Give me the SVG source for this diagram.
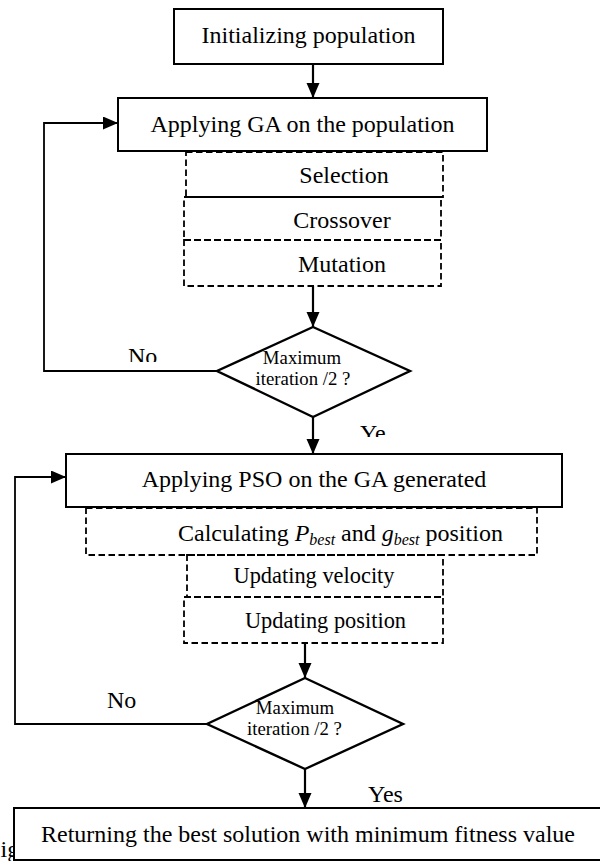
<svg xmlns="http://www.w3.org/2000/svg" width="600" height="861" viewBox="0 0 600 861">
<style>
.t{font-family:"Liberation Serif","Times New Roman",serif;font-size:24px;fill:#000}
.s{font-size:22.4px}
.d{font-size:18.8px}
.box{fill:#fff;stroke:#000;stroke-width:2}
.dash{fill:none;stroke:#000;stroke-width:1.8;stroke-dasharray:6.5,3.5}
.dia{fill:#fff;stroke:#000;stroke-width:2.4}
.ln{fill:none;stroke:#000;stroke-width:2.2}
.lp{fill:none;stroke:#000;stroke-width:1.8}
</style>
<defs>
<marker id="ah" markerUnits="userSpaceOnUse" markerWidth="16" markerHeight="14" refX="15" refY="6.5" orient="auto">
<path d="M0,0 L15,6.5 L0,13 z" fill="#000"/>
</marker>
<clipPath id="cNo"><rect x="100" y="330" width="80" height="32"/></clipPath>
<clipPath id="cYe"><rect x="350" y="410" width="37" height="27"/></clipPath>
</defs>
<rect width="600" height="861" fill="#fff"/>
<g id="caption"><text class="t" x="0.5" y="857" font-size="14">ig</text></g>
<g id="connectors">
<line class="ln" x1="313" y1="64" x2="313" y2="98" marker-end="url(#ah)"/>
<line class="ln" x1="313" y1="286" x2="313" y2="327" marker-end="url(#ah)"/>
<polyline class="lp" points="217,371 44,371 44,123 118,123" marker-end="url(#ah)"/>
<line class="ln" x1="313" y1="417" x2="313" y2="454" marker-end="url(#ah)"/>
<line class="ln" x1="305" y1="643" x2="305" y2="678" marker-end="url(#ah)"/>
<polyline class="lp" points="207,724 15,724 15,477 66,477" marker-end="url(#ah)"/>
<line class="ln" x1="305" y1="769" x2="305" y2="808" marker-end="url(#ah)"/>
<text class="t" x="128" y="364" clip-path="url(#cNo)">No</text>
<text class="t" x="360" y="441" clip-path="url(#cYe)">Ye</text>
<text class="t" x="107" y="708">No</text>
<text class="t" x="368" y="802">Yes</text>
</g>
<g id="init">
<rect class="box" x="174" y="9" width="269" height="55"/>
<text class="t" x="308.5" y="43" text-anchor="middle">Initializing population</text>
</g>
<g id="ga">
<rect class="box" x="118" y="98" width="369" height="53"/>
<text class="t" x="302.5" y="132" text-anchor="middle">Applying GA on the population</text>
</g>
<g id="selection">
<rect class="dash" x="186" y="152" width="257" height="45"/>
<text class="t" x="344" y="183" text-anchor="middle">Selection</text>
</g>
<g id="crossover">
<rect class="dash" x="184" y="197" width="257" height="43"/>
<text class="t" x="342" y="228" text-anchor="middle">Crossover</text>
</g>
<g id="mutation">
<rect class="dash" x="184" y="240" width="257" height="46"/>
<text class="t" x="342" y="272" text-anchor="middle">Mutation</text>
</g>
<g id="decision1">
<polygon class="dia" points="313,327 410,371 313,417 217,371"/>
<text class="t d" x="302" y="364" text-anchor="middle">Maximum</text>
<text class="t d" x="303" y="385" text-anchor="middle">iteration /2 ?</text>
</g>
<g id="pso">
<rect class="box" x="66" y="454" width="496" height="53"/>
<text class="t" x="314" y="487" text-anchor="middle">Applying PSO on the GA generated</text>
</g>
<g id="calc">
<rect class="dash" x="86" y="508" width="451" height="47"/>
<text class="t" x="178" y="541">Calculating <tspan font-style="italic">P</tspan><tspan font-style="italic" font-size="16" dy="4">best</tspan><tspan dy="-4"> and </tspan><tspan font-style="italic">g</tspan><tspan font-style="italic" font-size="16" dy="4">best</tspan><tspan dy="-4">  position</tspan></text>
</g>
<g id="velocity">
<rect class="dash" x="187" y="555" width="256" height="42"/>
<text class="t s" x="314" y="583" text-anchor="middle">Updating velocity</text>
</g>
<g id="position">
<rect class="dash" x="184" y="597" width="259" height="46"/>
<text class="t s" x="325.5" y="628" text-anchor="middle">Updating position</text>
</g>
<g id="decision2">
<polygon class="dia" points="305,678 403,724 305,769 207,724"/>
<text class="t d" x="295" y="714" text-anchor="middle">Maximum</text>
<text class="t d" x="294.5" y="735" text-anchor="middle">iteration /2 ?</text>
</g>
<g id="result">
<rect class="box" x="14" y="808" width="590" height="52"/>
<text class="t" x="41" y="842">Returning the best solution with minimum fitness value</text>
</g>
</svg>
